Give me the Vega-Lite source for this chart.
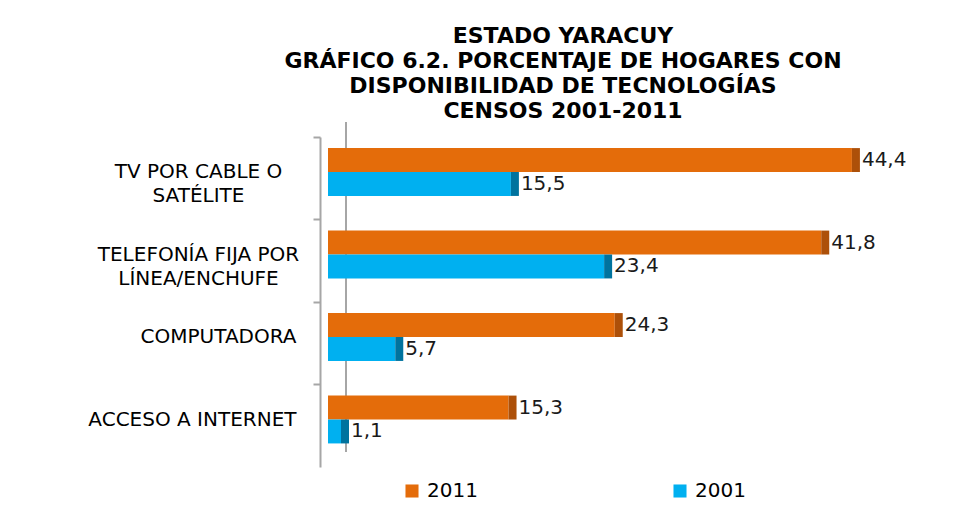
{
  "$schema": "https://vega.github.io/schema/vega-lite/v6.json",
  "width": 590,
  "height": 330,
  "autosize": {"type": "none"},
  "padding": {"left": 328, "top": 137, "right": 56, "bottom": 42},
  "background": "white",
  "config": {
    "view": {"stroke": null},
    "font": "DejaVu Sans",
    "locale": {"number": {"decimal": ",", "thousands": ".", "grouping": [3], "currency": ["", ""]}}
  },
  "title": {
    "text": ["ESTADO YARACUY", "GRÁFICO 6.2. PORCENTAJE DE HOGARES CON", "DISPONIBILIDAD  DE TECNOLOGÍAS", "CENSOS 2001-2011"],
    "fontSize": 22,
    "fontWeight": "bold",
    "font": "DejaVu Sans",
    "color": "#000000",
    "lineHeight": 25,
    "anchor": "middle",
    "frame": "group",
    "dx": -60,
    "offset": 13
  },
  "data": {
    "values": [
      {"cat": "TV POR CABLE O|SATÉLITE", "year": "2011", "value": 44.4},
      {"cat": "TV POR CABLE O|SATÉLITE", "year": "2001", "value": 15.5},
      {"cat": "TELEFONÍA FIJA POR|LÍNEA/ENCHUFE", "year": "2011", "value": 41.8},
      {"cat": "TELEFONÍA FIJA POR|LÍNEA/ENCHUFE", "year": "2001", "value": 23.4},
      {"cat": "COMPUTADORA", "year": "2011", "value": 24.3},
      {"cat": "COMPUTADORA", "year": "2001", "value": 5.7},
      {"cat": "ACCESO A INTERNET", "year": "2011", "value": 15.3},
      {"cat": "ACCESO A INTERNET", "year": "2001", "value": 1.1}
    ]
  },
  "encoding": {
    "y": {"field": "cat", "type": "nominal", "sort": null, "scale": {"paddingInner": 0.42, "paddingOuter": 0.21, "align": 0.32}, "axis": null},
    "yOffset": {"field": "year", "type": "nominal", "sort": ["2011", "2001"]},
    "x": {"field": "value", "type": "quantitative", "scale": {"domain": [0, 50]}, "axis": null}
  },
  "layer": [
    {
      "mark": {"type": "bar", "opacity": 0},
      "encoding": {
        "y": {"field": "cat", "type": "nominal", "sort": null, "scale": {"paddingInner": 0.42, "paddingOuter": 0.21, "align": 0.32},
          "axis": {"orient": "left", "title": null, "labels": false, "ticks": false, "offset": -33, "translate": -15, "domainColor": "#a6a6a6", "domainWidth": 2}}
      }
    },
    {
      "mark": {"type": "bar"},
      "encoding": {
        "y": {"field": "cat", "type": "nominal", "sort": null, "scale": {"paddingInner": 0.42, "paddingOuter": 0.21, "align": 0.32},
          "axis": {
            "orient": "left",
            "title": null,
            "labelExpr": "split(datum.label, '|')",
            "labelFontSize": 20,
            "labelFont": "DejaVu Sans",
            "labelColor": "#000000",
            "labelLineHeight": 24,
            "labelBaseline": "middle",
            "labelLimit": 400,
            "labelAlign": {"condition": {"test": "indexof(datum.value, '|') >= 0", "value": "center"}, "value": "right"},
            "labelPadding": {"condition": {"test": "indexof(datum.value, '|') >= 0", "value": 115}, "value": 17},
            "offset": 8,
            "domainColor": "#a6a6a6",
            "domainWidth": 2,
            "tickColor": "#a6a6a6",
            "tickWidth": 2,
            "tickSize": 7,
            "bandPosition": -0.23
          }
        },
        "color": {
          "field": "year", "type": "nominal",
          "scale": {"domain": ["2011", "2001"], "range": ["#e46c0a", "#00b0f0"]},
          "legend": {
            "orient": "none", "legendX": 74, "legendY": 344, "direction": "horizontal", "title": null,
            "symbolType": "square", "symbolSize": 170, "symbolStrokeWidth": 0,
            "labelFontSize": 20, "labelFont": "DejaVu Sans", "labelColor": "#000000",
            "columnPadding": 192, "labelOffset": 5
          }
        }
      }
    },
    {
      "mark": {"type": "tick", "orient": "vertical", "thickness": 8, "xOffset": 4, "opacity": 1},
      "encoding": {
        "color": {"condition": {"test": "datum.year == '2011'", "value": "#ad5009"}, "value": "#00739e"}
      }
    },
    {
      "mark": {"type": "text", "align": "left", "baseline": "middle", "dx": 10, "fontSize": 20, "font": "DejaVu Sans", "color": "#1a1a1a"},
      "encoding": {
        "text": {"field": "value", "type": "quantitative", "format": ".1f"}
      }
    }
  ],
  "resolve": {"axis": {"y": "independent"}}
}
